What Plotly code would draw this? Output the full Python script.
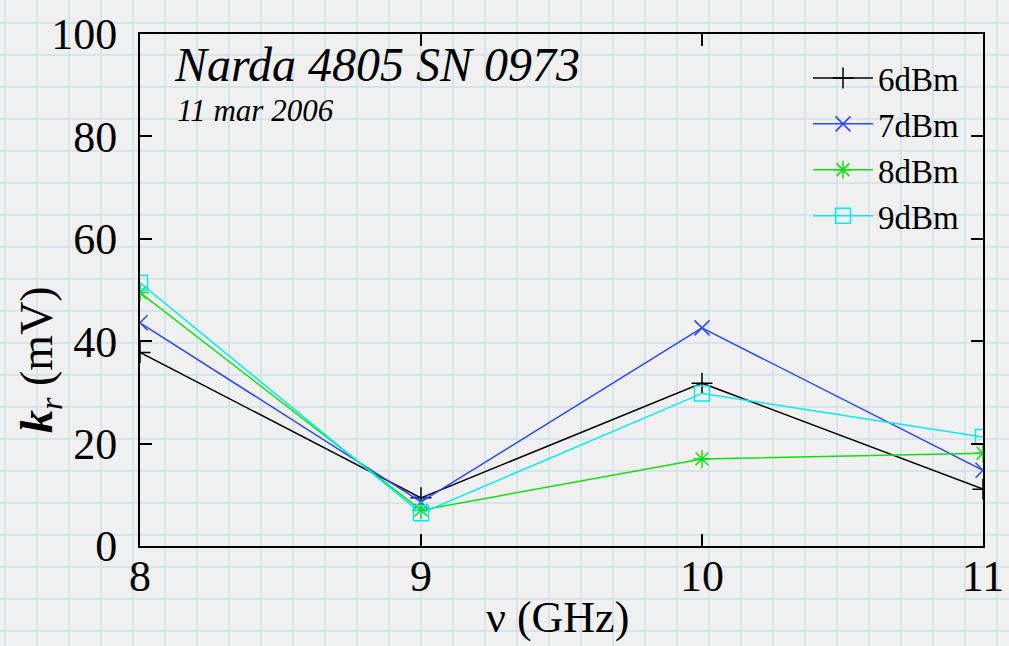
import plotly.graph_objects as go

W, H = 1009, 646

freq = [8, 9, 10, 11]
s6 = [37.8, 9.4, 31.8, 11.1]
s7 = [43.6, 8.6, 42.6, 14.8]
s8 = [49.5, 7.0, 17.0, 18.1]
s9 = [51.4, 6.4, 29.8, 21.3]
names = ["6dBm", "7dBm", "8dBm", "9dBm"]
x_ticks = [8, 9, 10, 11]
y_ticks = [0, 20, 40, 60, 80, 100]

colors = ["#000000", "#2a48ff", "#10e010", "#00eeee"]
symbols = ["cross-thin", "x-thin", "asterisk", "square-open"]
series = [s6, s7, s8, s9]

FONT = "Liberation Serif"

fig = go.Figure()
for nm, ys, c, sym in zip(names, series, colors, symbols):
    fig.add_trace(go.Scatter(
        x=freq, y=ys, name=nm, mode="lines+markers",
        line=dict(color=c, width=1.5),
        marker=dict(symbol=sym, size=15, color=c, line=dict(color=c, width=1.5)),
    ))

# graph-paper background (decoration only)
shapes = []
step = 32
x = 5
while x < W:
    shapes.append(dict(type="line", xref="paper", yref="paper", x0=x / W, x1=x / W, y0=0, y1=1,
                       line=dict(color="#cfe2ea", width=1.6), layer="below"))
    x += step
y = 23
while y < H:
    shapes.append(dict(type="line", xref="paper", yref="paper", x0=0, x1=1, y0=1 - y / H, y1=1 - y / H,
                       line=dict(color="#cfe2ea", width=1.6), layer="below"))
    y += step

x0p, x1p = 140, 983
y0p, y1p = 546, 34

fig.update_layout(
    width=W, height=H, autosize=False,
    margin=dict(l=0, r=0, t=0, b=0, pad=0, autoexpand=False),
    paper_bgcolor="#f0f0f0", plot_bgcolor="rgba(0,0,0,0)",
    font=dict(family=FONT, color="black"),
    shapes=shapes,
    xaxis=dict(domain=[x0p / W, x1p / W], range=[8, 11], tickvals=x_ticks,
               ticks="inside", ticklen=12, tickwidth=1.5, tickcolor="black",
               showline=True, linecolor="black", linewidth=2, mirror="ticks",
               showgrid=False, zeroline=False, tickfont=dict(size=44, family=FONT),
               ticklabelstandoff=-10, automargin=False),
    yaxis=dict(domain=[1 - y0p / H, 1 - y1p / H], range=[0, 100], tickvals=y_ticks,
               ticks="inside", ticklen=12, tickwidth=1.5, tickcolor="black",
               showline=True, linecolor="black", linewidth=2, mirror="ticks",
               showgrid=False, zeroline=False, tickfont=dict(size=44, family=FONT),
               ticklabelstandoff=12, automargin=False),
    legend=dict(x=965 / W, y=1 - 50 / H, xanchor="right", yanchor="top",
                bgcolor="rgba(0,0,0,0)", font=dict(size=33, family=FONT),
                tracegroupgap=0, itemwidth=60),
    showlegend=True,
    annotations=[
        dict(text="<i>Narda 4805 SN 0973</i>", xref="paper", yref="paper",
             x=172 / W, y=1 - 64 / H, xanchor="left", yanchor="middle",
             showarrow=False, font=dict(size=48, family=FONT)),
        dict(text="<i>11 mar 2006</i>", xref="paper", yref="paper",
             x=175 / W, y=1 - 111 / H, xanchor="left", yanchor="middle",
             showarrow=False, font=dict(size=31, family=FONT)),
        dict(text="\u03bd (GHz)", xref="paper", yref="paper",
             x=557 / W, y=1 - 617 / H, xanchor="center", yanchor="middle",
             showarrow=False, font=dict(size=44, family=FONT)),
        dict(text="<b><i>k</i></b><sub><i>r</i></sub> (mV)",
             xref="paper", yref="paper",
             x=40 / W, y=1 - 360 / H, xanchor="center", yanchor="middle", textangle=-90,
             showarrow=False, font=dict(size=46, family=FONT)),
    ],
)

fig.write_html("out.html")
